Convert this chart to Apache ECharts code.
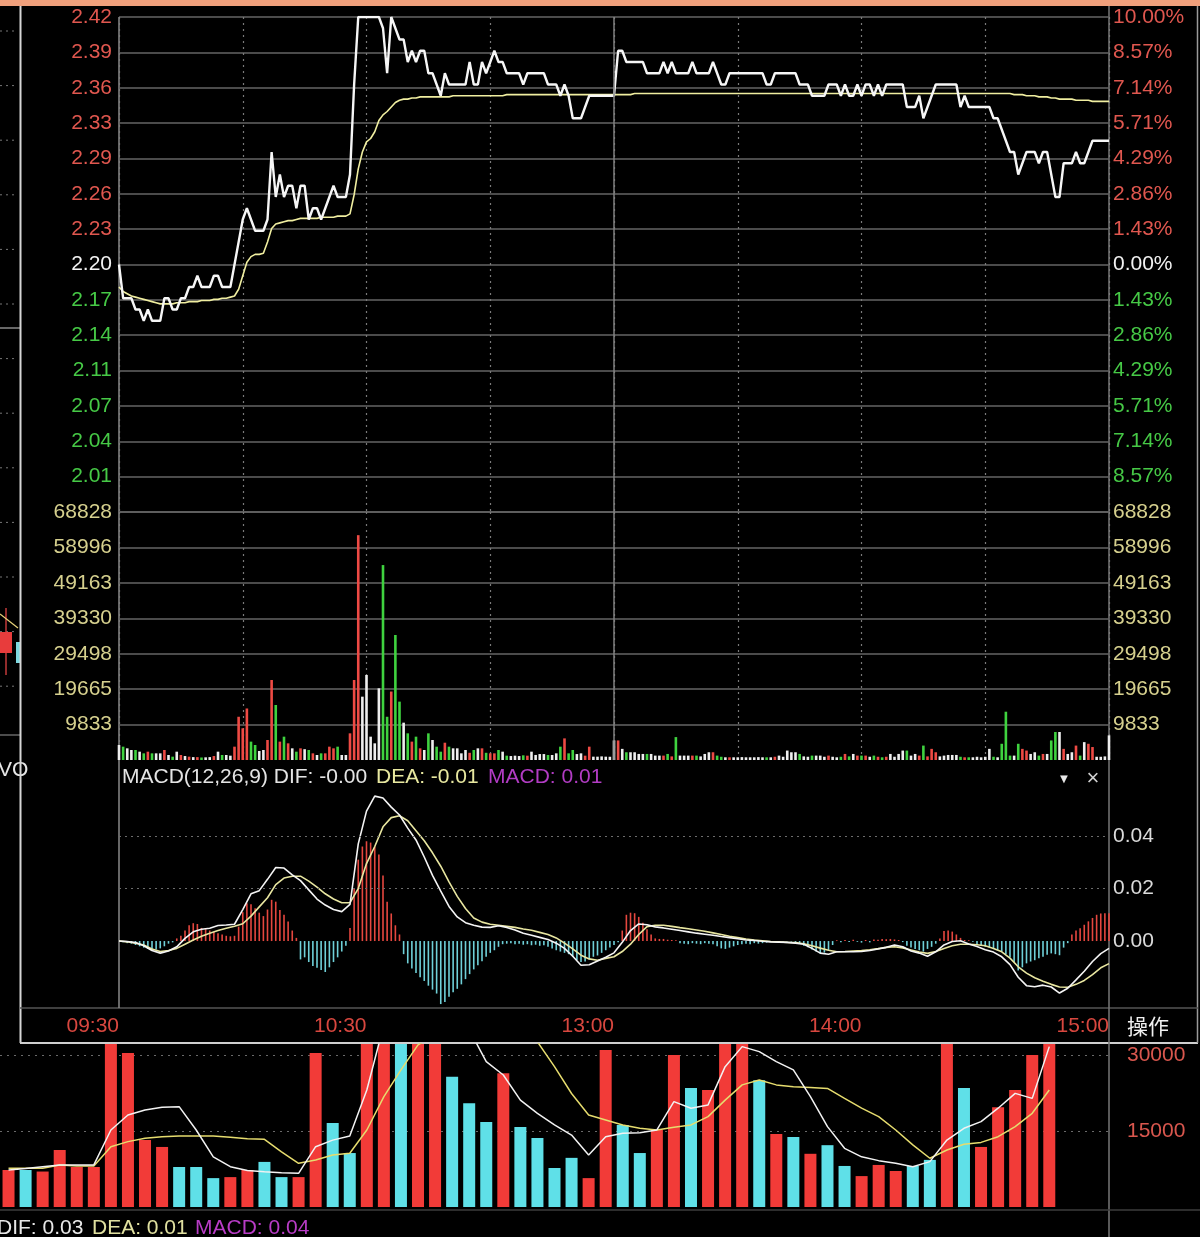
<!DOCTYPE html>
<html><head><meta charset="utf-8">
<script src="https://cdn.jsdelivr.net/npm/echarts@6/dist/echarts.min.js"></script>
<style>html,body{margin:0;padding:0;background:#000;}#c{width:1200px;height:1237px;}</style>
</head><body><div id="c"></div>
<script>
// ---------------- data ----------------
const prevClose = 2.20;
const timeLabels = ['09:30','10:30','13:00','14:00','15:00'];
const priceTicks = ['2.42','2.39','2.36','2.33','2.29','2.26','2.23','2.20','2.17','2.14','2.11','2.07','2.04','2.01'];
const pctTicks = ['10.00%','8.57%','7.14%','5.71%','4.29%','2.86%','1.43%','0.00%','1.43%','2.86%','4.29%','5.71%','7.14%','8.57%'];
const volTicks = ['68828','58996','49163','39330','29498','19665','9833'];
const macdTicks = ['0.04','0.02','0.00'];
const bgTicks = ['15000','30000'];

// minute price, 09:30 .. 15:00 (241 points)
const price = [
2.20,2.17,2.17,2.17,2.16,2.16,2.15,2.16,2.15,2.15,
2.15,2.17,2.17,2.16,2.16,2.17,2.17,2.18,2.18,2.19,
2.18,2.18,2.18,2.19,2.19,2.18,2.18,2.18,2.20,2.22,
2.24,2.25,2.24,2.23,2.23,2.23,2.24,2.30,2.26,2.28,
2.26,2.27,2.27,2.25,2.27,2.27,2.24,2.25,2.25,2.24,
2.25,2.26,2.27,2.26,2.26,2.26,2.28,2.36,2.42,2.42,
2.42,2.42,2.42,2.42,2.41,2.37,2.42,2.41,2.40,2.40,
2.38,2.39,2.38,2.39,2.39,2.37,2.37,2.36,2.35,2.37,
2.36,2.36,2.36,2.36,2.36,2.38,2.36,2.36,2.38,2.37,
2.38,2.39,2.38,2.38,2.37,2.37,2.37,2.37,2.36,2.37,
2.37,2.37,2.37,2.37,2.36,2.36,2.36,2.35,2.36,2.35,
2.33,2.33,2.33,2.34,2.35,2.35,2.35,2.35,2.35,2.35,
2.35,2.39,2.39,2.38,2.38,2.38,2.38,2.38,2.37,2.37,
2.37,2.37,2.38,2.37,2.38,2.37,2.37,2.37,2.37,2.38,
2.37,2.37,2.37,2.37,2.38,2.37,2.36,2.36,2.37,2.37,
2.37,2.37,2.37,2.37,2.37,2.37,2.37,2.36,2.36,2.37,
2.37,2.37,2.37,2.37,2.37,2.36,2.36,2.36,2.35,2.35,
2.35,2.35,2.36,2.36,2.36,2.35,2.36,2.35,2.35,2.36,
2.35,2.36,2.36,2.35,2.36,2.35,2.36,2.36,2.36,2.36,
2.36,2.34,2.34,2.34,2.35,2.33,2.34,2.35,2.36,2.36,
2.36,2.36,2.36,2.36,2.34,2.35,2.34,2.34,2.34,2.34,
2.34,2.34,2.33,2.33,2.32,2.31,2.30,2.30,2.28,2.29,
2.30,2.30,2.30,2.29,2.30,2.30,2.28,2.26,2.26,2.29,
2.29,2.29,2.30,2.29,2.29,2.30,2.31,2.31,2.31,2.31,
2.31];

// minute average price
const avgPrice = [
2.180,2.176,2.174,2.172,2.171,2.170,2.169,2.168,2.167,2.166,
2.165,2.165,2.165,2.165,2.166,2.166,2.166,2.167,2.167,2.167,
2.168,2.168,2.168,2.169,2.169,2.170,2.170,2.171,2.172,2.178,
2.190,2.202,2.207,2.209,2.209,2.210,2.220,2.232,2.236,2.237,
2.238,2.239,2.239,2.240,2.241,2.241,2.241,2.241,2.241,2.242,
2.242,2.242,2.242,2.243,2.243,2.243,2.245,2.262,2.285,2.300,
2.309,2.312,2.318,2.328,2.333,2.336,2.340,2.344,2.346,2.347,
2.347,2.348,2.348,2.349,2.349,2.349,2.349,2.349,2.349,2.349,
2.349,2.350,2.350,2.350,2.350,2.350,2.350,2.350,2.350,2.350,
2.350,2.350,2.350,2.350,2.351,2.351,2.351,2.351,2.351,2.351,
2.351,2.351,2.351,2.351,2.351,2.351,2.351,2.351,2.351,2.351,
2.351,2.351,2.351,2.351,2.351,2.351,2.351,2.351,2.351,2.351,
2.351,2.351,2.351,2.351,2.351,2.352,2.352,2.352,2.352,2.352,
2.352,2.352,2.352,2.352,2.352,2.352,2.352,2.352,2.352,2.352,
2.352,2.352,2.352,2.352,2.352,2.352,2.352,2.352,2.352,2.352,
2.352,2.352,2.352,2.352,2.352,2.352,2.352,2.352,2.352,2.352,
2.352,2.352,2.352,2.352,2.352,2.352,2.352,2.352,2.352,2.352,
2.352,2.352,2.352,2.352,2.352,2.352,2.352,2.352,2.352,2.352,
2.352,2.352,2.352,2.352,2.352,2.352,2.352,2.352,2.352,2.352,
2.352,2.352,2.352,2.352,2.352,2.352,2.352,2.352,2.352,2.352,
2.352,2.352,2.352,2.352,2.352,2.352,2.352,2.352,2.352,2.352,
2.352,2.352,2.352,2.352,2.352,2.352,2.352,2.351,2.351,2.351,
2.350,2.350,2.350,2.349,2.349,2.349,2.348,2.348,2.347,2.347,
2.347,2.347,2.346,2.346,2.346,2.346,2.345,2.345,2.345,2.345,
2.345];

// minute volume
const volume = [
4160,3700,3240,2775,2775,2310,1850,2310,1850,1850,
1850,2775,1390,925,2310,1390,1100,925,800,800,
700,740,800,1100,2310,1390,1390,1200,3700,12000,
8800,14300,5100,4160,2500,2775,5550,22200,15260,5100,
6475,4625,3240,2310,3240,3000,2775,1850,1390,1850,
1850,3700,3240,3700,1390,1390,7400,22200,62400,17575,
23590,6475,4625,19900,54100,12000,19000,34700,16200,10360,
7400,5100,6475,3240,2775,7400,5550,3700,2310,4800,
3700,3240,3240,1850,2775,2000,2775,3240,3240,2000,
1850,1850,2775,2310,1200,1100,1200,1100,1300,1200,
2310,1400,1650,1650,1390,1390,1850,3700,6000,1850,
2775,1650,1850,1200,3700,925,925,1000,925,900,
5430,5430,3090,2150,2150,2150,1680,1680,1680,1680,
1220,1220,1220,1680,1000,6360,1220,1220,1220,1220,
1220,1000,1680,2150,2150,1220,900,750,750,750,
750,800,750,750,750,800,750,750,750,900,
1220,900,2620,2150,2150,1680,1000,900,1220,1220,
1220,900,1220,900,750,900,1680,1000,1680,1220,
1220,1220,900,1220,900,750,900,1680,900,1680,
2620,2620,1220,1680,1220,4000,1000,3090,2150,1000,
1220,1400,1400,1400,900,750,750,750,900,750,
900,3090,900,750,4500,13400,1220,1220,4500,3090,
2620,1680,2150,1220,1680,1680,5430,7770,7770,3090,
1680,2150,4000,1220,4960,4500,3600,900,900,1000,
6830];

// MACD DIF / DEA, every 2 minutes (121 points)
const macdStep = 2;
const dif = [
0.0000,-0.0002,-0.0006,-0.0018,-0.0036,-0.0046,-0.0038,-0.0022,0.0010,0.0035,
0.0045,0.0049,0.0059,0.0061,0.0064,0.0120,0.0180,0.0192,0.0235,0.0280,
0.0278,0.0252,0.0230,0.0195,0.0160,0.0137,0.0120,0.0112,0.0140,0.0370,
0.0495,0.0552,0.0545,0.0510,0.0480,0.0430,0.0385,0.0320,0.0250,0.0190,
0.0132,0.0092,0.0070,0.0060,0.0053,0.0052,0.0058,0.0052,0.0042,0.0030,
0.0022,0.0014,0.0006,-0.0008,-0.0028,-0.0058,-0.0092,-0.0090,-0.0076,-0.0062,
-0.0045,-0.0005,0.0040,0.0065,0.0062,0.0054,0.0050,0.0045,0.0040,0.0035,
0.0030,0.0026,0.0022,0.0017,0.0013,0.0009,0.0004,0.0002,-0.0001,-0.0003,
-0.0004,-0.0005,-0.0008,-0.0012,-0.0028,-0.0046,-0.0050,-0.0041,-0.0041,-0.0041,
-0.0040,-0.0036,-0.0030,-0.0024,-0.0015,-0.0022,-0.0038,-0.0046,-0.0058,-0.0041,
-0.0015,-0.0002,0.0001,-0.0011,-0.0021,-0.0033,-0.0042,-0.0060,-0.0090,-0.0138,
-0.0170,-0.0174,-0.0168,-0.0175,-0.0198,-0.0180,-0.0148,-0.0115,-0.0078,-0.0048,
-0.0028];
const dea = [
0.0000,-0.0003,-0.0008,-0.0015,-0.0030,-0.0040,-0.0036,-0.0028,-0.0012,0.0004,
0.0018,0.0030,0.0040,0.0049,0.0056,0.0066,0.0095,0.0130,0.0165,0.0215,
0.0240,0.0247,0.0247,0.0228,0.0205,0.0180,0.0160,0.0146,0.0146,0.0200,
0.0295,0.0360,0.0435,0.0470,0.0477,0.0458,0.0420,0.0382,0.0336,0.0285,
0.0225,0.0170,0.0124,0.0088,0.0072,0.0064,0.0060,0.0056,0.0052,0.0046,
0.0041,0.0033,0.0025,0.0012,-0.0008,-0.0030,-0.0054,-0.0068,-0.0073,-0.0066,
-0.0060,-0.0040,-0.0012,0.0025,0.0055,0.0060,0.0060,0.0056,0.0051,0.0047,
0.0042,0.0037,0.0031,0.0025,0.0018,0.0013,0.0008,0.0004,0.0001,-0.0002,
-0.0003,-0.0005,-0.0006,-0.0010,-0.0018,-0.0027,-0.0035,-0.0041,-0.0040,-0.0038,
-0.0036,-0.0033,-0.0029,-0.0024,-0.0022,-0.0026,-0.0034,-0.0042,-0.0047,-0.0040,
-0.0028,-0.0018,-0.0012,-0.0012,-0.0014,-0.0018,-0.0028,-0.0041,-0.0065,-0.0098,
-0.0122,-0.0140,-0.0153,-0.0165,-0.0175,-0.0176,-0.0165,-0.0150,-0.0128,-0.0102,
-0.0086];
// MACD histogram, every minute (241 points)
const macdHist = [
0,-0.0005,-0.0008,-0.0010,-0.0015,-0.0020,-0.0025,-0.0030,-0.0035,-0.0032,
-0.0028,-0.0020,-0.0010,-0.0005,0.0010,0.0020,0.0040,0.0060,0.0068,0.0065,
0.0050,0.0045,0.0040,0.0035,0.0030,0.0025,0.0020,0.0018,0.0020,0.0055,
0.0110,0.0144,0.0140,0.0125,0.0108,0.0095,0.0120,0.0157,0.0150,0.0118,
0.0100,0.0074,0.0040,0.0012,-0.0070,-0.0062,-0.0080,-0.0095,-0.0102,-0.0110,
-0.0118,-0.0100,-0.0080,-0.0062,-0.0040,-0.0018,0.0050,0.0200,0.0310,0.0360,
0.0380,0.0375,0.0360,0.0330,0.0250,0.0150,0.0105,0.0060,0.0025,-0.0050,
-0.0085,-0.0105,-0.0122,-0.0138,-0.0152,-0.0170,-0.0185,-0.0200,-0.0240,-0.0232,
-0.0212,-0.0195,-0.0182,-0.0165,-0.0145,-0.0126,-0.0108,-0.0092,-0.0077,-0.0060,
-0.0045,-0.0035,-0.0022,-0.0012,-0.0010,-0.0008,-0.0012,-0.0010,-0.0014,-0.0012,
-0.0016,-0.0014,-0.0018,-0.0016,-0.0022,-0.0028,-0.0035,-0.0040,-0.0045,-0.0050,
-0.0060,-0.0072,-0.0080,-0.0078,-0.0070,-0.0060,-0.0055,-0.0045,-0.0035,-0.0025,
-0.0015,-0.0005,0.0040,0.0100,0.0108,0.0106,0.0092,0.0070,0.0045,0.0025,
0.0010,0.0008,0.0008,0.0005,0.0004,0.0003,-0.0008,-0.0010,-0.0012,-0.0008,
-0.0010,-0.0012,-0.0008,-0.0010,-0.0012,-0.0020,-0.0028,-0.0030,-0.0025,-0.0020,
-0.0015,-0.0012,-0.0010,-0.0012,-0.0008,-0.0010,-0.0008,-0.0006,-0.0004,-0.0003,
-0.0002,-0.0002,-0.0001,-0.0002,-0.0005,-0.0010,-0.0018,-0.0024,-0.0032,-0.0040,
-0.0047,-0.0044,-0.0035,-0.0015,0.0003,-0.0005,0.0004,-0.0004,0.0005,-0.0003,
-0.0006,0.0004,-0.0005,0.0006,0.0005,0.0008,0.0007,0.0008,0.0006,0.0004,
-0.0004,-0.0018,-0.0025,-0.0030,-0.0035,-0.0040,-0.0030,-0.0022,-0.0010,0.0010,
0.0038,0.0040,0.0036,0.0025,0.0012,0.0004,0.0003,-0.0003,-0.0015,-0.0018,
-0.0022,-0.0025,-0.0028,-0.0034,-0.0040,-0.0050,-0.0062,-0.0080,-0.0112,-0.0100,
-0.0085,-0.0078,-0.0073,-0.0066,-0.0060,-0.0052,-0.0047,-0.0050,-0.0054,-0.0025,
-0.0008,0.0025,0.0040,0.0049,0.0062,0.0075,0.0088,0.0100,0.0105,0.0106,
0.0106];

// background (daily) chart at the bottom
const bgVol = [
7300,7300,7000,11250,7900,7900,40000,30400,13200,11850,
7900,7900,5700,5900,7300,8900,5900,5900,30400,16600,
10650,45000,42000,40000,38000,36000,25700,20500,16800,26400,
15800,13600,7700,9700,5700,31000,16200,10650,15200,30000,
23500,23100,36000,38000,25000,14400,13800,10500,12200,8100,
6100,8300,7100,8100,9300,40000,23500,11850,19700,23100,
30000,38000];
const bgUp = [
1,0,1,1,1,1,1,1,1,1,
0,0,0,1,1,0,0,1,1,0,
0,1,1,0,1,1,0,0,0,1,
0,0,0,0,1,1,0,0,1,1,
0,1,1,1,0,1,0,1,0,0,
1,1,1,0,0,1,0,1,1,1,
1,1];
const bgMaWhite = [
7300,7600,7960,8300,8300,8300,15200,18150,19150,19700,
19800,15200,9900,7960,7200,6970,6770,6640,11900,13200,
14000,23100,36000,40000,42000,40000,38000,35000,28700,26050,
21100,18490,16200,14200,10250,13880,14540,14670,15200,20800,
19500,20150,27700,31650,30660,28700,27050,21800,15860,11580,
9900,9150,8620,7960,8950,13220,15530,16850,19500,22430,
21440,31650];
const bgMaYellow = [
7630,7630,7630,8300,8100,8100,11900,12900,13550,13880,
14000,14000,14000,13750,13490,13350,10900,8620,9280,10270,
10600,15200,21800,27050,32000,34000,36000,37000,37000,36000,
35000,32600,27700,22400,18150,17170,16200,15530,15200,15730,
16200,17830,21100,24100,25050,24100,23750,23600,23400,21440,
19500,17830,15200,12250,9620,11250,12400,12750,13880,15860,
18490,23100];
const bgSlots = 65;

// ---------------- styling ----------------
const RED = '#ee4a44', GREEN = '#3fd23f', WHITE = '#eeeeee';
const LBL_RED = '#e0574f', LBL_GREEN = '#46c946', LBL_VOL = '#d6d08e';
const FONT = '"Liberation Sans", Arial, sans-serif';
const GRIDC = '#646464';
const pMax = 2.42, pMin = 1.98, pStep = (pMax - pMin) / 14;
const vMax = 68828, vStep = vMax / 7;
const bgMax = 32170;

const pIdx = v => Math.round((pMax - v) / pStep);
const pColor = v => { const i = pIdx(v); return i < 7 ? LBL_RED : (i === 7 ? '#f2f2f2' : LBL_GREEN); };

const volData = volume.map((v, i) => {
  const d = price[i] - (i ? price[i - 1] : prevClose);
  const c = d > 1e-9 ? RED : (d < -1e-9 ? GREEN : WHITE);
  return { value: [i, v], itemStyle: { color: c } };
});
const histData = macdHist.map((v, i) => ({ value: [i, v], itemStyle: { color: v >= 0 ? '#e5473f' : '#6fd0d8' } }));
const bgCats = [];
for (let i = 0; i < bgSlots; i++) bgCats.push(String(i + 1));
const bgBarData = bgVol.map((v, i) => ({ value: v, itemStyle: { color: bgUp[i] ? '#f23b38' : '#5fe0e8' } }));

const minuteX = (extra) => Object.assign({
  type: 'value', min: 0, max: 240, interval: 30,
  axisLine: { show: false }, axisTick: { show: false }, axisLabel: { show: false },
  splitLine: { show: true, lineStyle: { color: '#7a7a7a', type: [2, 4], width: 1.2 } }
}, extra);

const vline120 = {
  silent: true, symbol: 'none', label: { show: false },
  lineStyle: { color: '#808080', type: 'solid', width: 1.5 },
  data: [{ xAxis: 120 }]
};

// ---------------- graphics (frame / background decoration) ----------------
const g = [];
g.push({ type: 'rect', shape: { x: 0, y: 0, width: 1200, height: 6 }, style: { fill: '#f0a07c' } });
for (let k = 0; k < 13; k++) {
  const y = 31 + 54.6 * k;
  g.push({ type: 'line', shape: { x1: 0, y1: y, x2: 18, y2: y }, style: { stroke: '#777', lineWidth: 1, lineDash: [2, 4] } });
}
g.push({ type: 'line', shape: { x1: 0, y1: 328, x2: 20, y2: 328 }, style: { stroke: '#8a8a8a', lineWidth: 1.5 } });
g.push({ type: 'line', shape: { x1: 0, y1: 735, x2: 20, y2: 735 }, style: { stroke: '#666', lineWidth: 1.5 } });
g.push({ type: 'line', shape: { x1: 6, y1: 608, x2: 6, y2: 675 }, style: { stroke: '#c23a3a', lineWidth: 1.5 } });
g.push({ type: 'rect', shape: { x: 0, y: 632, width: 12, height: 21 }, style: { fill: '#e83c3c' } });
g.push({ type: 'rect', shape: { x: 16, y: 642, width: 4, height: 21 }, style: { fill: '#7fd8e0' } });
g.push({ type: 'line', shape: { x1: 0, y1: 614, x2: 18, y2: 628 }, style: { stroke: '#e6d27a', lineWidth: 1.2 } });
g.push({ type: 'text', style: { text: 'VO', x: -2, y: 770, fill: '#e6e6e6', font: '21px ' + FONT, textVerticalAlign: 'middle', verticalAlign: 'middle' } });
// popup frame
g.push({ type: 'line', shape: { x1: 20.5, y1: 6, x2: 20.5, y2: 1043 }, style: { stroke: '#d6d6d6', lineWidth: 2 } });
g.push({ type: 'line', shape: { x1: 20, y1: 1043, x2: 1198, y2: 1043 }, style: { stroke: '#cfcfcf', lineWidth: 2 } });
g.push({ type: 'line', shape: { x1: 1197.5, y1: 6, x2: 1197.5, y2: 1043 }, style: { stroke: '#9a9a9a', lineWidth: 1.5 } });
g.push({ type: 'line', shape: { x1: 20, y1: 1008, x2: 1198, y2: 1008 }, style: { stroke: '#555', lineWidth: 1.5 } });
g.push({ type: 'line', shape: { x1: 119, y1: 17, x2: 119, y2: 1008 }, style: { stroke: '#8a8a8a', lineWidth: 1.5 } });
g.push({ type: 'line', shape: { x1: 1109, y1: 6, x2: 1109, y2: 1237 }, style: { stroke: '#777', lineWidth: 1.5 } });
g.push({ type: 'line', shape: { x1: 0, y1: 1210, x2: 1200, y2: 1210 }, style: { stroke: '#3c3c3c', lineWidth: 1.5 } });
// texts
const tStyle = (text, x, y, fill, size, extra) => Object.assign({ text, x, y, fill, font: (size || 21) + 'px ' + FONT, textVerticalAlign: 'middle', verticalAlign: 'middle' }, extra || {});
g.push({ type: 'text', style: tStyle('MACD(12,26,9) DIF: -0.00', 122, 777, '#e4e4e4') });
g.push({ type: 'text', style: tStyle('DEA: -0.01', 376, 777, '#e8e8a0') });
g.push({ type: 'text', style: tStyle('MACD: 0.01', 488, 777, '#b23cc4') });
g.push({ type: 'text', style: tStyle('▼', 1064, 779, '#e8e8e8', 13, { textAlign: 'center', align: 'center' }) });
g.push({ type: 'text', style: tStyle('×', 1093, 779, '#d0d0d0', 22, { textAlign: 'center', align: 'center' }) });
g.push({ type: 'text', style: Object.assign(tStyle('操作', 1127, 1026, '#f0f0f0', 21), { font: '21px "Noto Sans CJK SC", sans-serif' }) });
g.push({ type: 'text', style: tStyle('DIF: 0.03', -3, 1228, '#e8e8e8') });
g.push({ type: 'text', style: tStyle('DEA: 0.01', 92, 1228, '#e0e0a0') });
g.push({ type: 'text', style: tStyle('MACD: 0.04', 195, 1228, '#b83cc6') });

// ---------------- option ----------------
const option = {
  backgroundColor: '#000',
  animation: false,
  graphic: { elements: g },
  grid: [
    { left: 119, top: 17, width: 990, height: 495 },
    { left: 119, top: 512, width: 990, height: 248 },
    { left: 119, top: 783.5, width: 990, height: 224.5 },
    { left: -2, top: 1044, width: 1111, height: 163 }
  ],
  xAxis: [
    minuteX({ gridIndex: 0 }),
    minuteX({ gridIndex: 1 }),
    minuteX({ gridIndex: 2, splitLine: { show: false },
      axisLabel: { show: true, align: 'right', margin: 8, color: '#d8473f', fontSize: 21, fontFamily: FONT,
        formatter: v => (v % 60 === 0 ? timeLabels[v / 60] : '') } }),
    { type: 'category', gridIndex: 3, data: bgCats, boundaryGap: true,
      axisLine: { show: false }, axisTick: { show: false }, axisLabel: { show: false }, splitLine: { show: false } }
  ],
  yAxis: [
    { type: 'value', gridIndex: 0, min: pMin, max: pMax, interval: pStep, position: 'left',
      axisLine: { show: false }, axisTick: { show: false },
      axisLabel: { margin: 7, fontSize: 21, fontFamily: FONT, color: pColor,
        formatter: v => { const i = pIdx(v); return (i >= 0 && i < priceTicks.length) ? priceTicks[i] : ''; } },
      splitLine: { show: true, lineStyle: { color: GRIDC, width: 1.5 } } },
    { type: 'value', gridIndex: 0, min: pMin, max: pMax, interval: pStep, position: 'right',
      axisLine: { show: false }, axisTick: { show: false }, splitLine: { show: false },
      axisLabel: { margin: 4, fontSize: 21, fontFamily: FONT, color: pColor,
        formatter: v => { const i = pIdx(v); return (i >= 0 && i < pctTicks.length) ? pctTicks[i] : ''; } } },
    { type: 'value', gridIndex: 1, min: 0, max: vMax, interval: vStep, position: 'left',
      axisLine: { show: false }, axisTick: { show: false },
      axisLabel: { margin: 7, fontSize: 21, fontFamily: FONT, color: LBL_VOL,
        formatter: v => { const i = Math.round((vMax - v) / vStep); return (i >= 0 && i < volTicks.length) ? volTicks[i] : ''; } },
      splitLine: { show: true, lineStyle: { width: 1.5, color: ['rgba(0,0,0,0)', GRIDC, GRIDC, GRIDC, GRIDC, GRIDC, GRIDC, GRIDC, GRIDC, GRIDC] } } },
    { type: 'value', gridIndex: 1, min: 0, max: vMax, interval: vStep, position: 'right',
      axisLine: { show: false }, axisTick: { show: false }, splitLine: { show: false },
      axisLabel: { margin: 4, fontSize: 21, fontFamily: FONT, color: LBL_VOL,
        formatter: v => { const i = Math.round((vMax - v) / vStep); return (i >= 0 && i < volTicks.length) ? volTicks[i] : ''; } } },
    { type: 'value', gridIndex: 2, min: -0.0255, max: 0.06, position: 'right',
      axisLine: { show: false }, axisTick: { show: false }, splitLine: { show: false },
      axisLabel: { margin: 4, fontSize: 21, fontFamily: FONT, color: '#dadada',
        formatter: v => { const t = [0.04, 0.02, 0]; const i = t.findIndex(x => Math.abs(v - x) < 1e-6); return i >= 0 ? macdTicks[i] : ''; } } },
    { type: 'value', gridIndex: 3, min: 0, max: bgMax, interval: 15000, position: 'right',
      axisLine: { show: false }, axisTick: { show: false },
      axisLabel: { margin: 18, fontSize: 21, fontFamily: FONT, color: '#d9574e',
        formatter: v => (Math.abs(v - 15000) < 1 ? bgTicks[0] : (Math.abs(v - 30000) < 1 ? bgTicks[1] : '')) },
      splitLine: { show: true, lineStyle: { width: 1.2, type: [2, 5], color: ['rgba(0,0,0,0)', '#6a6a6a', '#6a6a6a', 'rgba(0,0,0,0)'] } } }
  ],
  series: [
    { type: 'line', name: 'avg', xAxisIndex: 0, yAxisIndex: 0, symbol: 'none', z: 3,
      data: avgPrice.map((v, i) => [i, v]), lineStyle: { color: '#f0eea0', width: 1.6 } },
    { type: 'line', name: 'price', xAxisIndex: 0, yAxisIndex: 0, symbol: 'none', z: 4,
      data: price.map((v, i) => [i, v]), lineStyle: { color: '#f6f6f6', width: 2.4 },
      markLine: vline120 },
    { type: 'bar', name: 'vol', xAxisIndex: 1, yAxisIndex: 2, barWidth: 2.6, z: 3,
      data: volData, markLine: vline120 },
    { type: 'bar', name: 'hist', xAxisIndex: 2, yAxisIndex: 4, barWidth: 1.6, z: 2,
      data: histData,
      markLine: { silent: true, symbol: 'none', label: { show: false },
        lineStyle: { color: '#6c6c6c', type: [2, 4], width: 1.2 },
        data: [{ yAxis: 0.02 }, { yAxis: 0.04 }] } },
    { type: 'line', name: 'DEA', xAxisIndex: 2, yAxisIndex: 4, symbol: 'none', z: 3,
      data: dea.map((v, i) => [i * macdStep, v]), lineStyle: { color: '#e8e6a0', width: 1.6 } },
    { type: 'line', name: 'DIF', xAxisIndex: 2, yAxisIndex: 4, symbol: 'none', z: 4,
      data: dif.map((v, i) => [i * macdStep, v]), lineStyle: { color: '#f4f4f4', width: 1.6 } },
    { type: 'bar', name: 'bgVol', xAxisIndex: 3, yAxisIndex: 5, barWidth: 12, data: bgBarData, z: 2 },
    { type: 'line', name: 'bgMa2', xAxisIndex: 3, yAxisIndex: 5, symbol: 'none', z: 3,
      data: bgMaYellow, lineStyle: { color: '#e6dc6e', width: 1.5 } },
    { type: 'line', name: 'bgMa1', xAxisIndex: 3, yAxisIndex: 5, symbol: 'none', z: 4,
      data: bgMaWhite, lineStyle: { color: '#f2f2f2', width: 1.5 } }
  ]
};
const chart = echarts.init(document.getElementById('c'), null, { renderer: 'canvas' });
chart.setOption(option);
</script>
</body></html>
